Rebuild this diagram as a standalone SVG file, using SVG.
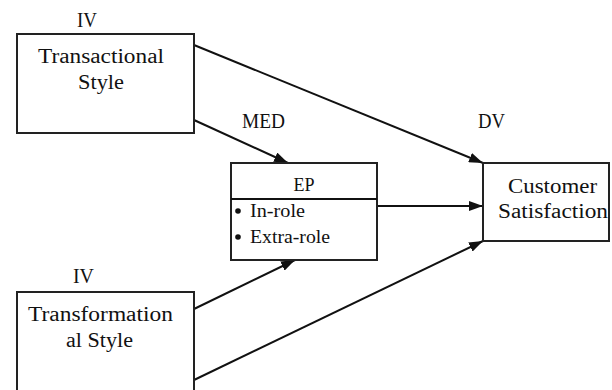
<svg xmlns="http://www.w3.org/2000/svg" width="612" height="390" viewBox="0 0 612 390">
<style>
.box{fill:#fff;stroke:#222;stroke-width:2}
.t{font-family:"Liberation Serif","Times New Roman",serif;font-size:20.5px;fill:#111}
.s{font-family:"Liberation Serif","Times New Roman",serif;font-size:18px;fill:#111}
.c line{stroke:#111;stroke-width:2}
</style>
<defs>
<marker id="ah" viewBox="0 0 14 10" refX="14" refY="5" markerWidth="14" markerHeight="10" markerUnits="userSpaceOnUse" orient="auto">
<path d="M0,0 L14,5 L0,10 Z" fill="#111"/>
</marker>
</defs>
<rect width="612" height="390" fill="#fff"/>
<g id="labels">
<text class="t" x="77" y="27" textLength="20" lengthAdjust="spacingAndGlyphs">IV</text>
<text class="t" x="242" y="128" textLength="43" lengthAdjust="spacingAndGlyphs">MED</text>
<text class="t" x="478" y="128" textLength="27" lengthAdjust="spacingAndGlyphs">DV</text>
<text class="t" x="73" y="283" textLength="21" lengthAdjust="spacingAndGlyphs">IV</text>
</g>
<g class="c" id="connectors">
<line x1="194" y1="45" x2="483" y2="163" marker-end="url(#ah)"/>
<line x1="194" y1="120" x2="288" y2="163" marker-end="url(#ah)"/>
<line x1="377" y1="206" x2="483" y2="206" marker-end="url(#ah)"/>
<line x1="194" y1="309" x2="295" y2="260" marker-end="url(#ah)"/>
<line x1="194" y1="380" x2="483" y2="241" marker-end="url(#ah)"/>
</g>
<g id="transactional">
<rect class="box" x="17" y="34" width="177" height="99"/>
<text class="t" x="38" y="63" textLength="126" lengthAdjust="spacingAndGlyphs">Transactional</text>
<text class="t" x="78" y="89" textLength="46" lengthAdjust="spacingAndGlyphs">Style</text>
</g>
<g id="transformational">
<rect class="box" x="17" y="292" width="177" height="100"/>
<text class="t" x="28" y="321" textLength="145" lengthAdjust="spacingAndGlyphs">Transformation</text>
<text class="t" x="66" y="347" textLength="67" lengthAdjust="spacingAndGlyphs">al Style</text>
</g>
<g id="ep">
<rect class="box" x="231" y="163" width="146" height="97"/>
<line x1="231" y1="199" x2="377" y2="199" stroke="#111" stroke-width="2"/>
<text class="s" x="304" y="191" text-anchor="middle">EP</text>
<circle cx="238" cy="211" r="2.8" fill="#111"/>
<circle cx="238" cy="237" r="2.8" fill="#111"/>
<text class="s" x="250" y="217" textLength="55" lengthAdjust="spacingAndGlyphs">In-role</text>
<text class="s" x="250" y="243" textLength="80" lengthAdjust="spacingAndGlyphs">Extra-role</text>
</g>
<g id="customer">
<rect class="box" x="483" y="163" width="126" height="78"/>
<text class="t" x="508" y="193" textLength="89" lengthAdjust="spacingAndGlyphs">Customer</text>
<text class="t" x="498" y="218" textLength="110" lengthAdjust="spacingAndGlyphs">Satisfaction</text>
</g>
</svg>
